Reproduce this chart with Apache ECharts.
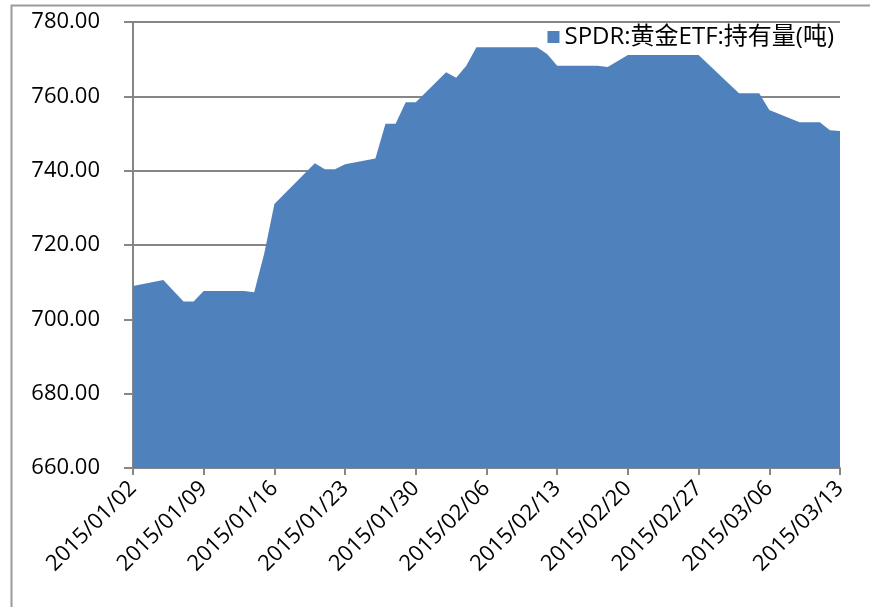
<!DOCTYPE html>
<html>
<head>
<meta charset="utf-8">
<script src="https://cdn.jsdelivr.net/npm/echarts@6/dist/echarts.min.js"></script>
<style>
  html, body { margin: 0; padding: 0; background: #fff; }
  #chart { width: 870px; height: 607px; }
</style>
</head>
<body>
<div id="chart"></div>
<script>
// SPDR gold ETF holdings (tonnes), trading days only
var dates = [
  '2015/01/02','2015/01/05','2015/01/06','2015/01/07','2015/01/08','2015/01/09',
  '2015/01/12','2015/01/13','2015/01/14','2015/01/15','2015/01/16',
  '2015/01/20','2015/01/21','2015/01/22','2015/01/23',
  '2015/01/26','2015/01/27','2015/01/28','2015/01/29','2015/01/30',
  '2015/02/02','2015/02/03','2015/02/04','2015/02/05','2015/02/06',
  '2015/02/09','2015/02/10','2015/02/11','2015/02/12','2015/02/13',
  '2015/02/17','2015/02/18','2015/02/19','2015/02/20',
  '2015/02/23','2015/02/24','2015/02/25','2015/02/26','2015/02/27',
  '2015/03/02','2015/03/03','2015/03/04','2015/03/05','2015/03/06',
  '2015/03/09','2015/03/10','2015/03/11','2015/03/12','2015/03/13'
];
var holdings = [
  709.0, 710.6, 707.7, 704.8, 704.8, 707.6,
  707.6, 707.6, 707.3, 717.8, 731.0,
  742.0, 740.4, 740.4, 741.7,
  743.3, 752.6, 752.6, 758.4, 758.4,
  766.5, 765.0, 768.2, 773.2, 773.2,
  773.2, 773.2, 773.2, 771.4, 768.2,
  768.2, 767.9, 769.5, 771.1,
  771.1, 771.1, 771.1, 771.1, 771.1,
  763.4, 760.8, 760.8, 760.8, 756.3,
  753.0, 753.0, 753.0, 750.9, 750.7
];
var seriesName = 'SPDR:黄金ETF:持有量(吨)';
var startDate = '2015/01/02';
var endDate = '2015/03/13';
var yTicks = [660, 680, 700, 720, 740, 760, 780];

var DAY = 86400000;
function toTime(s) {
  var p = s.split('/');
  return Date.UTC(+p[0], +p[1] - 1, +p[2]);
}
function pad(n) { return n < 10 ? '0' + n : '' + n; }
var t0 = toTime(startDate);
var span = Math.round((toTime(endDate) - t0) / DAY);

var seriesData = [];
for (var i = 0; i < dates.length; i++) {
  seriesData.push([Math.round((toTime(dates[i]) - t0) / DAY), holdings[i]]);
}

var myChart = echarts.init(document.getElementById('chart'));

var option = {
  animation: false,
  backgroundColor: '#fff',
  graphic: [{
    type: 'rect',
    shape: { x: 11.5, y: 5.5, width: 900, height: 700 },
    style: { fill: 'none', stroke: '#9a9a9a', lineWidth: 2 },
    silent: true
  }],
  legend: {
    data: [seriesName],
    right: 31,
    top: 20,
    icon: 'rect',
    itemWidth: 12,
    itemHeight: 12,
    itemGap: 6,
    textStyle: { fontFamily: 'Open Sans, Noto Sans CJK SC', fontSize: 24, color: '#000' }
  },
  grid: { left: 133, right: 30, top: 22, bottom: 139, containLabel: false },
  xAxis: {
    type: 'value',
    min: 0,
    max: span,
    interval: 7,
    axisLine: { show: true, onZero: false, lineStyle: { color: '#868686', width: 2 } },
    axisTick: { show: true, length: 7, lineStyle: { color: '#868686', width: 2 } },
    splitLine: { show: false },
    axisLabel: {
      rotate: 45,
      margin: 17,
      fontFamily: 'Open Sans',
      fontSize: 22,
      color: '#000',
      formatter: function (v) {
        var d = new Date(t0 + v * DAY);
        return d.getUTCFullYear() + '/' + pad(d.getUTCMonth() + 1) + '/' + pad(d.getUTCDate());
      }
    }
  },
  yAxis: {
    type: 'value',
    min: yTicks[0],
    max: yTicks[yTicks.length - 1],
    interval: yTicks[1] - yTicks[0],
    axisLine: { show: true, lineStyle: { color: '#868686', width: 2 } },
    axisTick: { show: true, length: 9, lineStyle: { color: '#868686', width: 2 } },
    splitLine: { show: true, lineStyle: { color: '#868686', width: 2 } },
    axisLabel: {
      margin: 33,
      fontFamily: 'Open Sans',
      fontSize: 22,
      color: '#000',
      formatter: function (v) { return v.toFixed(2); }
    }
  },
  series: [{
    name: seriesName,
    type: 'line',
    data: seriesData,
    symbol: 'none',
    itemStyle: { color: '#4f81bd' },
    lineStyle: { width: 0, color: '#4f81bd' },
    areaStyle: { color: '#4f81bd', opacity: 1 },
    z: 3
  }]
};

myChart.setOption(option);
</script>
</body>
</html>
